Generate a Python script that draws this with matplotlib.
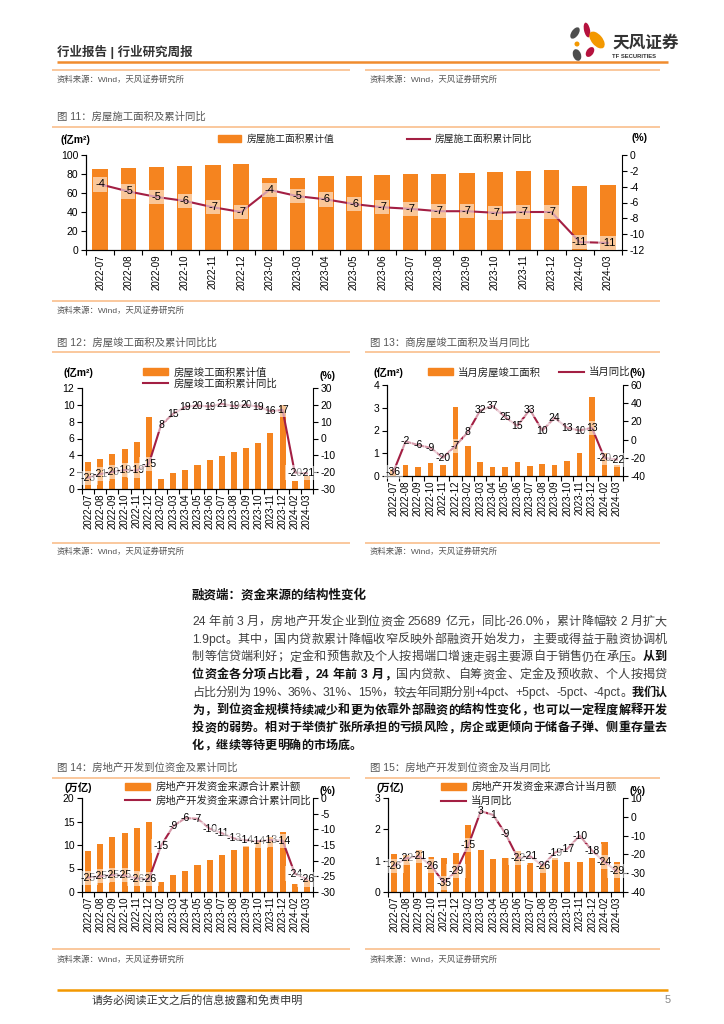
import re
import numpy as np
import matplotlib
matplotlib.use('Agg')
import matplotlib.pyplot as plt
from matplotlib.patches import Ellipse, Patch
from matplotlib.lines import Line2D
from matplotlib.font_manager import FontProperties

FAMILY = ['Liberation Sans', 'Noto Sans CJK SC']
plt.rcParams['font.family'] = FAMILY
plt.rcParams['axes.unicode_minus'] = False

# ---- data ----
months = ['2022-07', '2022-08', '2022-09', '2022-10', '2022-11', '2022-12',
          '2023-02', '2023-03', '2023-04', '2023-05', '2023-06', '2023-07',
          '2023-08', '2023-09', '2023-10', '2023-11', '2023-12',
          '2024-02', '2024-03']

# 图11 房屋施工面积(亿m²) 及累计同比(%)
f11_area = [85.7, 86.8, 87.8, 88.9, 89.9, 90.5, 75.6, 76.3, 77.4, 78.4,
            79.4, 80.5, 80.5, 81.5, 82.6, 83.3, 83.8, 67.2, 67.9]
f11_yoy = [-3.7, -4.6, -5.3, -5.8, -6.6, -7.2, -4.4, -5.2, -5.6, -6.2,
           -6.6, -6.8, -7.1, -7.1, -7.3, -7.2, -7.2, -11.0, -11.1]

# 图12 房屋竣工面积累计值(亿m²) 及累计同比(%)
f12_area = [3.2, 3.6, 4.1, 4.7, 5.6, 8.6, 1.2, 1.9, 2.3, 2.8,
            3.4, 3.9, 4.4, 4.9, 5.5, 6.6, 10.0, 1.0, 1.5]
f12_yoy = [-23.3, -21.1, -19.9, -18.7, -19.0, -15.0, 8.0, 14.7, 18.8, 19.6,
           19.0, 20.6, 19.2, 19.8, 19.0, 16.2, 17.0, -20.2, -20.7]

# 图13 当月房屋竣工面积(亿m²) 及当月同比(%)
f13_area = [0.30, 0.48, 0.40, 0.56, 0.50, 3.05, 1.32, 0.60, 0.41, 0.41,
            0.60, 0.44, 0.53, 0.48, 0.64, 1.01, 3.47, 1.00, 0.50]
f13_yoy = [-36, -2, -6, -9, -20, -7, 8, 32, 37, 25,
           15, 33, 10, 24, 13, 10, 13, -20, -22]

# 图14 到位资金累计额(万亿) 及累计同比(%)
f14_fund = [8.8, 10.3, 11.6, 12.6, 13.7, 14.9, 2.2, 3.6, 4.5, 5.8,
            6.9, 7.9, 8.9, 9.8, 10.7, 11.6, 12.7, 1.7, 2.6]
f14_yoy = [-25.4, -25.0, -24.6, -24.7, -25.7, -25.9, -15.2, -9.0, -6.4, -6.6,
           -9.8, -11.2, -12.9, -13.5, -13.8, -13.4, -13.6, -24.1, -26.0]

# 图15 到位资金当月额(万亿) 及当月同比(%)
f15_fund = [1.21, 1.19, 1.35, 1.13, 1.10, 1.26, 2.15, 1.35, 1.06, 1.10,
            1.30, 0.93, 0.90, 1.10, 0.95, 0.97, 1.08, 1.61, 0.96]
f15_yoy = [-26, -22, -21, -26, -35, -29, -15, 3, 1, -9,
           -22, -21, -26, -19, -17, -10, -18, -24, -29]

ORANGE = '#F5841F'
RED = '#A31F43'
LINE_LT = '#F9BF8C'
SRC = '资料来源：Wind，天风证券研究所'

W, H = 724, 1024
fig = plt.figure(figsize=(7.24, 10.24), dpi=100)
bg = fig.add_axes([0, 0, 1, 1])
bg.set_xlim(0, W)
bg.set_ylim(H, 0)
bg.axis('off')


def hline(x0, x1, y, color=LINE_LT, lw=1.2):
    bg.plot([x0, x1], [y, y], color=color, lw=lw, solid_capstyle='butt')


def chart(rect, bars, yoy, lylim, lyticks, rylim, ryticks, bw, labels,
          leg_xy, ncol, colsp, labsp, leg_fs, unit, unit_xy, pct_xy, lab_fs=7.5):
    l, r, t, b = rect
    ax = fig.add_axes([l / W, 1 - b / H, (r - l) / W, (b - t) / H])
    x = np.arange(len(months))
    ax.bar(x, bars, width=bw, color=ORANGE, zorder=2)
    ax.set_xlim(-0.5, len(months) - 0.5)
    ax.set_ylim(*lylim)
    ax.set_yticks(lyticks)
    ax.set_xticks(np.arange(len(months) + 1) - 0.5)
    ax.set_xticklabels([])
    ax.set_xticks(x, minor=True)
    ax.set_xticklabels(months, minor=True, rotation=90, fontsize=7)
    ax.tick_params(axis='x', which='minor', length=0, pad=3)
    ax.tick_params(axis='x', which='major', length=3.5, width=0.8)
    ax.tick_params(axis='y', length=3.5, width=0.8, labelsize=7.5, pad=2)
    ax.spines['top'].set_visible(False)
    ax.spines['right'].set_visible(False)
    for s in ['left', 'bottom']:
        ax.spines[s].set_linewidth(0.8)

    ax2 = ax.twinx()
    ax2.plot(x, yoy, color=RED, lw=1.5, zorder=2)
    for xi, v in zip(x, yoy):
        ax2.text(xi, v, f'{v:.0f}', ha='center', va='center', fontsize=lab_fs,
                 zorder=3, bbox=dict(boxstyle='square,pad=0.2', fc='white',
                                     ec='none', alpha=0.55))
    ax2.set_ylim(*rylim)
    ax2.set_yticks(ryticks)
    ax2.tick_params(axis='y', length=3.5, width=0.8, labelsize=7.5, pad=2)
    ax2.spines['top'].set_visible(False)
    ax2.spines['right'].set_linewidth(0.8)

    handles = [Patch(color=ORANGE), Line2D([], [], color=RED, lw=1.5)]
    ax2.legend(handles, labels, loc='upper left',
               bbox_to_anchor=(leg_xy[0] / W, 1 - leg_xy[1] / H),
               bbox_transform=fig.transFigure, ncol=ncol, frameon=False,
               fontsize=leg_fs, handlelength=2.4, handleheight=0.6,
               handletextpad=0.5, columnspacing=colsp, labelspacing=labsp,
               borderpad=0, borderaxespad=0, labelcolor='#222')
    bg.text(unit_xy[0], unit_xy[1], unit, ha='center', va='center',
            fontsize=7.5, weight='bold')
    bg.text(pct_xy[0], pct_xy[1], '(%)', ha='center', va='center',
            fontsize=7.5, weight='bold')


# ---- header ----
bg.text(57, 52, '行业报告 | 行业研究周报', fontsize=9, weight='bold',
        color='#333333', va='center')
hline(57, 668, 62, color='#F08C2E', lw=1.8)
for (cx, cy, w, h, a, c) in [(575, 33, 7, 13, 35, '#4D4D4D'),
                             (587, 30, 6, 15, -12, '#B5123E'),
                             (597, 40, 11, 20, -40, '#F39800'),
                             (577, 44, 5, 5, 0, '#F39800'),
                             (590, 52, 7, 11, 35, '#B5123E'),
                             (577, 55, 8, 12, -20, '#4D4D4D')]:
    bg.add_patch(Ellipse((cx, cy), w, h, angle=a, color=c, lw=0))
bg.text(612, 43, '天风证券', fontsize=12, weight='bold', color='#333333',
        va='center')
bg.text(612, 57, 'TF SECURITIES', fontsize=4.2, weight='bold',
        color='#333333', va='center')

hline(52, 350, 70)
hline(365, 660, 70)
bg.text(57, 80, SRC, fontsize=6, color='#555555', va='center')
bg.text(370, 80, SRC, fontsize=6, color='#555555', va='center')

# ---- 图11 ----
bg.text(57, 117, '图 11：房屋施工面积及累计同比', fontsize=7.5, color='#555555',
        va='center')
hline(52, 660, 127)
chart((86, 622, 155, 250), f11_area, f11_yoy, (0, 100), range(0, 101, 20),
      (-12, 0), range(-12, 1, 2), 0.55,
      ['房屋施工面积累计值', '房屋施工面积累计同比'], (218, 134), 2, 7.5, 0.2, 7,
      '(亿m²)', (75, 140), (640, 138), lab_fs=8)
hline(52, 660, 301)
bg.text(57, 311, SRC, fontsize=6, color='#555555', va='center')

# ---- 图12 / 图13 ----
bg.text(57, 343, '图 12：房屋竣工面积及累计同比比', fontsize=7.5, color='#555555',
        va='center')
bg.text(370, 343, '图 13：商房屋竣工面积及当月同比', fontsize=7.5, color='#555555',
        va='center')
hline(52, 350, 352)
hline(365, 660, 352)
chart((82, 313, 388, 489), f12_area, f12_yoy, (0, 12), range(0, 13, 2),
      (-30, 30), range(-30, 31, 10), 0.5,
      ['房屋竣工面积累计值', '房屋竣工面积累计同比'], (143, 367), 1, 1.0, 0.1, 7.5,
      '(亿m²)', (78, 373), (327, 376))
chart((387, 623, 385, 476), f13_area, f13_yoy, (0, 4), range(0, 5, 1),
      (-40, 60), range(-40, 61, 20), 0.45,
      ['当月房屋竣工面积', '当月同比'], (428, 367), 2, 1.7, 0.2, 7.5,
      '(亿m²)', (388, 373), (637, 373))
hline(52, 350, 543)
hline(365, 660, 543)
bg.text(57, 552, SRC, fontsize=6, color='#555555', va='center')
bg.text(370, 552, SRC, fontsize=6, color='#555555', va='center')

# ---- 正文 ----
bg.text(192, 595, '融资端：资金来源的结构性变化', fontsize=9, weight='bold',
        color='#111111', va='center')
para = [
    [('24 年前 3 月，房地产开发企业到位资金 25689 亿元，同比-26.0%，累计降幅较 2 月扩大', False)],
    [('1.9pct。其中，国内贷款累计降幅收窄反映外部融资开始发力，主要或得益于融资协调机', False)],
    [('制等信贷端利好；定金和预售款及个人按揭端口增速走弱主要源自于销售仍在承压。', False), ('从到', True)],
    [('位资金各分项占比看，24 年前 3 月，', True), ('国内贷款、自筹资金、定金及预收款、个人按揭贷', False)],
    [('占比分别为 19%、36%、31%、15%，较去年同期分别+4pct、+5pct、-5pct、-4pct。', False), ('我们认', True)],
    [('为，到位资金规模持续减少和更为依靠外部融资的结构性变化，也可以一定程度解释开发', True)],
    [('投资的弱势。相对于举债扩张所承担的亏损风险，房企或更倾向于储备子弹、侧重存量去', True)],
    [('化，继续等待更明确的市场底。', True)],
]
renderer = fig.canvas.get_renderer()
PFS = 8.7
fp_n = FontProperties(family=FAMILY, size=PFS)
fp_b = FontProperties(family=FAMILY, size=PFS, weight='bold')
x0, x1 = 192, 667
for i, segs in enumerate(para):
    y = 622 + i * 17.7
    toks = []
    for s, bold in segs:
        for tk in re.findall(r'[A-Za-z0-9.%+\-]+|\s|.', s):
            toks.append((tk, bold))
    widths = [renderer.get_text_width_height_descent(tk, fp_b if bd else fp_n,
                                                      ismath=False)[0]
              for tk, bd in toks]
    gap = (x1 - x0 - sum(widths)) / (len(toks) - 1) if i < len(para) - 1 else 0
    x = x0
    for (tk, bd), w in zip(toks, widths):
        if not tk.isspace():
            bg.text(x, y, tk, fontproperties=fp_b if bd else fp_n,
                    color='#111111' if bd else '#404040', va='center', ha='left')
        x += w + gap

# ---- 图14 / 图15 ----
bg.text(57, 768, '图 14：房地产开发到位资金及累计同比', fontsize=7.5,
        color='#555555', va='center')
bg.text(370, 768, '图 15：房地产开发到位资金及当月同比', fontsize=7.5,
        color='#555555', va='center')
hline(52, 350, 778)
hline(365, 660, 778)
chart((82, 313, 798, 892), f14_fund, f14_yoy, (0, 20), range(0, 21, 5),
      (-30, 0), range(-30, 1, 5), 0.5,
      ['房地产开发资金来源合计累计额', '房地产开发资金来源合计累计同比'], (125, 782),
      1, 1.0, 0.3, 7.5, '(万亿)', (78, 788), (327, 791))
chart((388, 623, 798, 892), f15_fund, f15_yoy, (0, 3), range(0, 4, 1),
      (-40, 10), range(-40, 11, 10), 0.5,
      ['房地产开发资金来源合计当月额', '当月同比'], (441, 782),
      1, 1.0, 0.35, 7.5, '(万亿)', (390, 788), (637, 791))
hline(52, 350, 949)
hline(365, 660, 949)
bg.text(57, 960, SRC, fontsize=6, color='#555555', va='center')
bg.text(370, 960, SRC, fontsize=6, color='#555555', va='center')

# ---- footer ----
hline(57, 668, 990, color='#F39800', lw=1.8)
bg.text(92, 1000, '请务必阅读正文之后的信息披露和免责申明', fontsize=8,
        color='#333333', va='center')
bg.text(665, 1000, '5', fontsize=8, color='#888888', va='center')

fig.savefig('out.png', dpi=100)
